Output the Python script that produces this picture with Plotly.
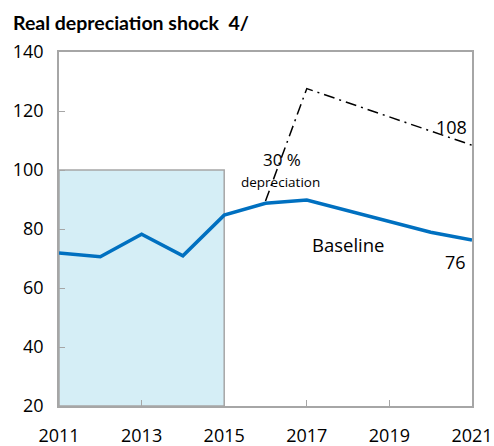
import plotly.graph_objects as go

years = [2011, 2012, 2013, 2014, 2015, 2016, 2017, 2018, 2019, 2020, 2021]
baseline = [71.9, 70.6, 78.2, 70.9, 84.7, 88.7, 89.8, 86.2, 82.5, 78.9, 76.3]
shock_years = [2016, 2017, 2018, 2019, 2020, 2021]
shock = [89.5, 127.6, 122.8, 118.0, 113.2, 108.4]
hist_start, hist_end = 2011, 2015
hist_low, hist_high = 20, 100
x_ticks = [2011, 2013, 2015, 2017, 2019, 2021]
y_ticks = [20, 40, 60, 80, 100, 120, 140]

FONT = "Open Sans"
fig = go.Figure()
fig.add_shape(type="rect", x0=hist_start, x1=hist_end, y0=hist_low, y1=hist_high,
              xref="x", yref="y", fillcolor="#D5EEF6",
              line=dict(color="#A6A6A6", width=1.5), layer="below")
fig.add_trace(go.Scatter(x=years, y=baseline, mode="lines",
                         line=dict(color="#0070C0", width=3.5), showlegend=False))
fig.add_trace(go.Scatter(x=shock_years, y=shock, mode="lines",
                         line=dict(color="black", width=1.5, dash="11px,5px,2px,5px"),
                         showlegend=False))

fig.add_annotation(x=2016.4, y=103.4, text="30 %", showarrow=False,
                   font=dict(family=FONT, size=17, color="black"))
fig.add_annotation(x=2016.37, y=95.9, text="depreciation", showarrow=False,
                   font=dict(family=FONT, size=13.5, color="black"))
fig.add_annotation(x=2018.0, y=74.9, text="Baseline", showarrow=False,
                   font=dict(family=FONT, size=18.5, color="black"))
fig.add_annotation(x=2020.5, y=114.6, text=str(round(shock[-1])), showarrow=False,
                   font=dict(family=FONT, size=18, color="black"))
fig.add_annotation(x=2020.6, y=68.8, text=str(round(baseline[-1])), showarrow=False,
                   font=dict(family=FONT, size=18, color="black"))

fig.update_layout(
    width=494, height=446,
    margin=dict(l=59, r=22, t=52, b=40, autoexpand=False),
    paper_bgcolor="white", plot_bgcolor="white",
    font=dict(family=FONT, size=18, color="black"),
    title=dict(text="<b>Real depreciation shock  4/</b>", x=13/494, xanchor="left",
               y=1 - 23/446, yanchor="middle", font=dict(family="Lato", size=19.5, color="black")),
)
fig.update_xaxes(range=[2011, 2021], tickvals=x_ticks, ticks="inside", ticklen=6,
                 tickcolor="#A6A6A6", showline=True, linecolor="#A6A6A6", linewidth=1.5,
                 mirror=True, showgrid=False, zeroline=False, ticklabelstandoff=13,
                 automargin=False, tickfont=dict(family=FONT, size=18, color="black"))
fig.update_yaxes(range=[20, 140], tickvals=y_ticks, ticks="inside", ticklen=6,
                 tickcolor="#A6A6A6", showline=True, linecolor="#A6A6A6", linewidth=1.5,
                 mirror=True, showgrid=False, zeroline=False, ticklabelstandoff=10,
                 automargin=False, tickfont=dict(family=FONT, size=18, color="black"))
fig.write_html("out.html", config={"displayModeBar": False},
               post_script="document.body.style.margin='0';")
